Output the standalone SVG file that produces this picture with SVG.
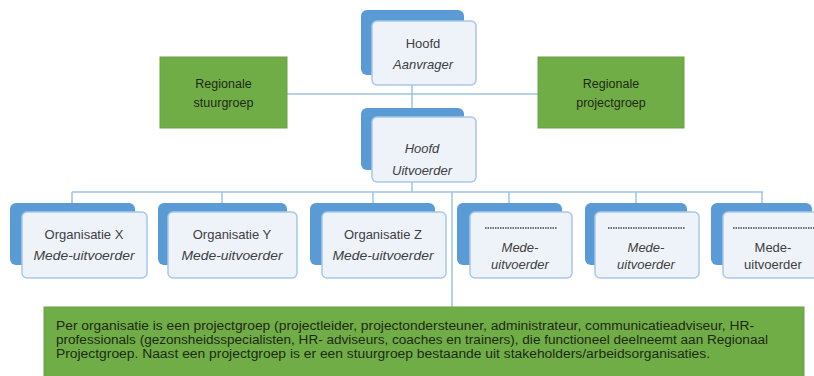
<svg xmlns="http://www.w3.org/2000/svg" width="814" height="376" viewBox="0 0 814 376">
<style>
.back{fill:#5B9BD5;}
.front{fill:#EEF3FA;stroke:#A6C8EB;stroke-width:1.5;}
.green{fill:#70AD47;stroke:#6A9F44;stroke-width:1;}
.conn{stroke:#9DC3E6;stroke-width:1.5;fill:none;}
.t{font-family:"Liberation Sans",Arial,sans-serif;font-size:13px;fill:#404040;text-anchor:middle;}
.i{font-style:italic;}
.g{font-family:"Liberation Sans",Arial,sans-serif;font-size:12.5px;fill:#1E2A14;text-anchor:middle;}
.b{font-family:"Liberation Sans",Arial,sans-serif;font-size:12px;fill:#1E2A14;}
.dot{stroke:#444;stroke-width:1.3;stroke-dasharray:1.5 1;}
</style>
<rect width="814" height="376" fill="#ffffff"/>
<g id="connectors">
<path class="conn" d="M412 85V108"/>
<path class="conn" d="M287 94H538"/>
<path class="conn" d="M412 182V192"/>
<path class="conn" d="M72 192H763"/>
<path class="conn" d="M72 192V203M222 192V203M373 192V203M509 192V203M636 192V203M762 192V203"/>
<path class="conn" d="M452 192V307"/>
</g>
<g id="hoofd-aanvrager">
<rect class="back" x="361" y="10" width="103" height="65" rx="6"/>
<rect class="front" x="372" y="21" width="104" height="64" rx="5"/>
<text class="t" x="423" y="48">Hoofd</text>
<text class="t i" x="423" y="69">Aanvrager</text>
</g>
<g id="regionale-stuurgroep">
<rect class="green" x="160" y="57" width="127" height="71"/>
<text class="g" x="223.5" y="88">Regionale</text>
<text class="g" x="223.5" y="107">stuurgroep</text>
</g>
<g id="regionale-projectgroep">
<rect class="green" x="538" y="57" width="146" height="71"/>
<text class="g" x="611" y="88">Regionale</text>
<text class="g" x="611" y="107">projectgroep</text>
</g>
<g id="hoofd-uitvoerder">
<rect class="back" x="361" y="108" width="103" height="62" rx="6"/>
<rect class="front" x="372" y="117" width="104" height="65" rx="5"/>
<text class="t i" x="422" y="153">Hoofd</text>
<text class="t i" x="422" y="175">Uitvoerder</text>
</g>
<g id="organisatie-x">
<rect class="back" x="10" y="203" width="125" height="62" rx="6"/>
<rect class="front" x="22" y="212" width="125" height="66" rx="5"/>
<text class="t" x="84" y="239">Organisatie X</text>
<text class="t i" x="84" y="260" textLength="101" lengthAdjust="spacingAndGlyphs">Mede-uitvoerder</text>
</g>
<g id="organisatie-y">
<rect class="back" x="158" y="203" width="129" height="62" rx="6"/>
<rect class="front" x="168" y="212" width="129" height="66" rx="5"/>
<text class="t" x="232" y="239">Organisatie Y</text>
<text class="t i" x="232" y="260" textLength="101" lengthAdjust="spacingAndGlyphs">Mede-uitvoerder</text>
</g>
<g id="organisatie-z">
<rect class="back" x="310" y="203" width="125" height="62" rx="6"/>
<rect class="front" x="322" y="212" width="124" height="66" rx="5"/>
<text class="t" x="383" y="239">Organisatie Z</text>
<text class="t i" x="383" y="260" textLength="101" lengthAdjust="spacingAndGlyphs">Mede-uitvoerder</text>
</g>
<g id="mede-uitvoerder-1">
<rect class="back" x="457" y="203" width="105" height="62" rx="6"/>
<rect class="front" x="470" y="212" width="102" height="66" rx="5"/>
<line class="dot" x1="485" y1="228" x2="557" y2="228"/>
<text class="t i" x="520" y="252">Mede-</text>
<text class="t i" x="520" y="269">uitvoerder</text>
</g>
<g id="mede-uitvoerder-2">
<rect class="back" x="585" y="203" width="102" height="62" rx="6"/>
<rect class="front" x="595" y="212" width="104" height="66" rx="5"/>
<line class="dot" x1="608" y1="228" x2="685" y2="228"/>
<text class="t i" x="646" y="252">Mede-</text>
<text class="t i" x="646" y="269">uitvoerder</text>
</g>
<g id="mede-uitvoerder-3">
<rect class="back" x="711" y="203" width="101" height="62" rx="6"/>
<rect class="front" x="723" y="212" width="104" height="66" rx="5"/>
<line class="dot" x1="733" y1="228" x2="814" y2="228"/>
<text class="t" x="773" y="252">Mede-</text>
<text class="t" x="773" y="269">uitvoerder</text>
</g>
<g id="toelichting">
<rect class="green" x="44" y="307" width="760" height="75"/>
<text class="b" x="56" y="330" textLength="698" lengthAdjust="spacingAndGlyphs">Per organisatie is een projectgroep (projectleider, projectondersteuner,  administrateur, communicatieadviseur, HR-</text>
<text class="b" x="56" y="344" textLength="712" lengthAdjust="spacingAndGlyphs">professionals (gezonsheidsspecialisten, HR- adviseurs, coaches en trainers), die functioneel  deelneemt  aan Regionaal</text>
<text class="b" x="56" y="358" textLength="654" lengthAdjust="spacingAndGlyphs">Projectgroep.  Naast een projectgroep  is er een stuurgroep bestaande uit stakeholders/arbeidsorganisaties.</text>
</g>
</svg>
